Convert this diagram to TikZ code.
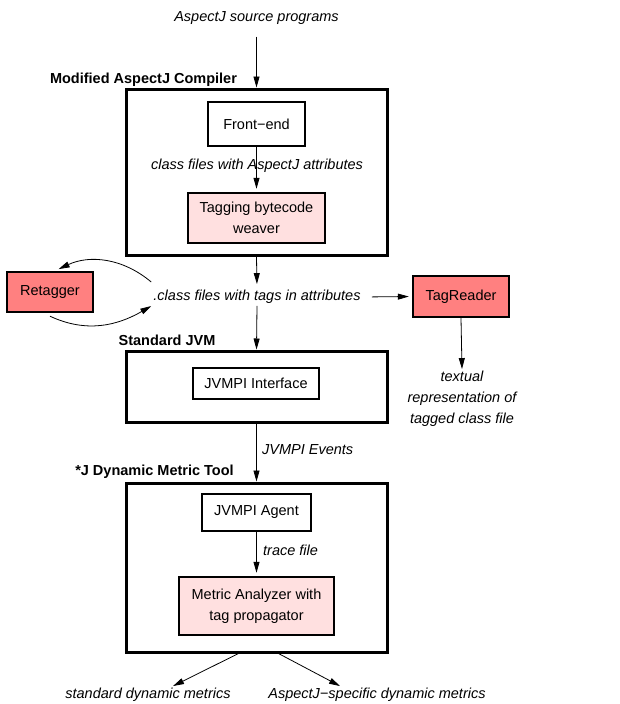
\documentclass[tikz,border=0pt]{standalone}
\usepackage{fontspec}
\setmainfont{Liberation Sans}
\usetikzlibrary{arrows.meta}
\definecolor{weaverpink}{RGB}{255,224,224}
\definecolor{toolred}{RGB}{255,128,128}
\newcommand\diagfont{\fontsize{14.5}{21}\selectfont}

\begin{document}
\begin{tikzpicture}[x=1pt,y=-1pt,font=\diagfont,
  bigbox/.style={draw, line width=3pt, minimum width=261pt, inner sep=0pt},
  unitbox/.style={draw, line width=2.4pt, inner sep=0pt, align=center},
  flow/.style={-{Triangle[length=11pt,width=6pt]}, line width=0.8pt},
  lbl/.style={font=\diagfont\itshape, inner sep=2pt, align=center},
  grp/.style={font=\diagfont\bfseries, inner sep=0pt}]
\useasboundingbox (0,0) rectangle (619,704);

\node [bigbox, minimum height=166pt] (compiler) at (256.5,172) {};
\node [bigbox, minimum height=71pt] (jvm) at (256.5,386.5) {};
\node [bigbox, minimum height=169pt] (tool) at (256.5,567.5) {};

\node [grp] (compilername) at (143.5,80) {Modified AspectJ Compiler};
\node [grp] (jvmname) at (167,340) {Standard JVM};
\node [grp] (toolname) at (154.5,472) {*J Dynamic Metric Tool};

\node [unitbox, minimum width=97pt, minimum height=44pt] (frontend) at (256.5,124) {Front−end};
\node [unitbox, fill=weaverpink, minimum width=137pt, minimum height=50pt] (weaver) at (256.5,218) {Tagging bytecode\\weaver};
\node [unitbox, minimum width=126pt, minimum height=31pt] (interface) at (256,383.5) {JVMPI Interface};
\node [unitbox, minimum width=109pt, minimum height=37pt] (agent) at (256.5,512.5) {JVMPI Agent};
\node [unitbox, fill=weaverpink, minimum width=155pt, minimum height=58pt] (analyzer) at (256.5,606) {Metric Analyzer with\\tag propagator};
\node [unitbox, fill=toolred, minimum width=86pt, minimum height=40pt] (retagger) at (50,292) {Retagger};
\node [unitbox, fill=toolred, minimum width=96pt, minimum height=41pt] (tagreader) at (461,296.5) {TagReader};

\node [lbl] (src) at (256.5,18) {AspectJ source programs};
\node [lbl] (attrfiles) at (257,166) {class files with AspectJ attributes};
\node [lbl] (tagged) at (257,297) {.class files with tags in attributes};
\node [lbl] (textual) at (462,399) {textual\\representation of\\tagged class file};
\node [lbl, anchor=west] (events) at (260,450) {JVMPI Events};
\node [lbl, anchor=west] (trace) at (261,550) {trace file};
\node [lbl] (stdmetrics) at (148,695) {standard dynamic metrics};
\node [lbl] (ajmetrics) at (377,695) {AspectJ−specific dynamic metrics};

\draw [flow, shorten <=10pt] (src.south) -- (compiler.north);
\draw [flow, shorten >=3pt] (frontend.south) -- (weaver.north);
\draw [flow, shorten >=4pt] (compiler.south) -- (tagged.north);
\draw [flow] (tagged.south) -- (jvm.north);
\draw [flow, shorten <=9pt, shorten >=3pt] (tagged.east) -- (tagreader.west);
\draw [flow] (tagreader.south) -- (textual.north);
\draw [flow] (jvm.south) -- (tool.north);
\draw [flow, shorten >=3pt] (agent.south) -- (analyzer.north);
\draw [flow] ([xshift=-18pt]tool.south) -- ([xshift=25pt]stdmetrics.north);
\draw [flow] ([xshift=22pt]tool.south) -- ([xshift=-37pt]ajmetrics.north);

\draw [flow, shorten >=4pt] ([yshift=15pt]tagged.west) to[out=140,in=25] ([xshift=5pt]retagger.north);
\draw [flow] ([yshift=-3pt]retagger.south) to[out=-25,in=-150] ([yshift=-9pt]tagged.west);
\end{tikzpicture}
\end{document}
